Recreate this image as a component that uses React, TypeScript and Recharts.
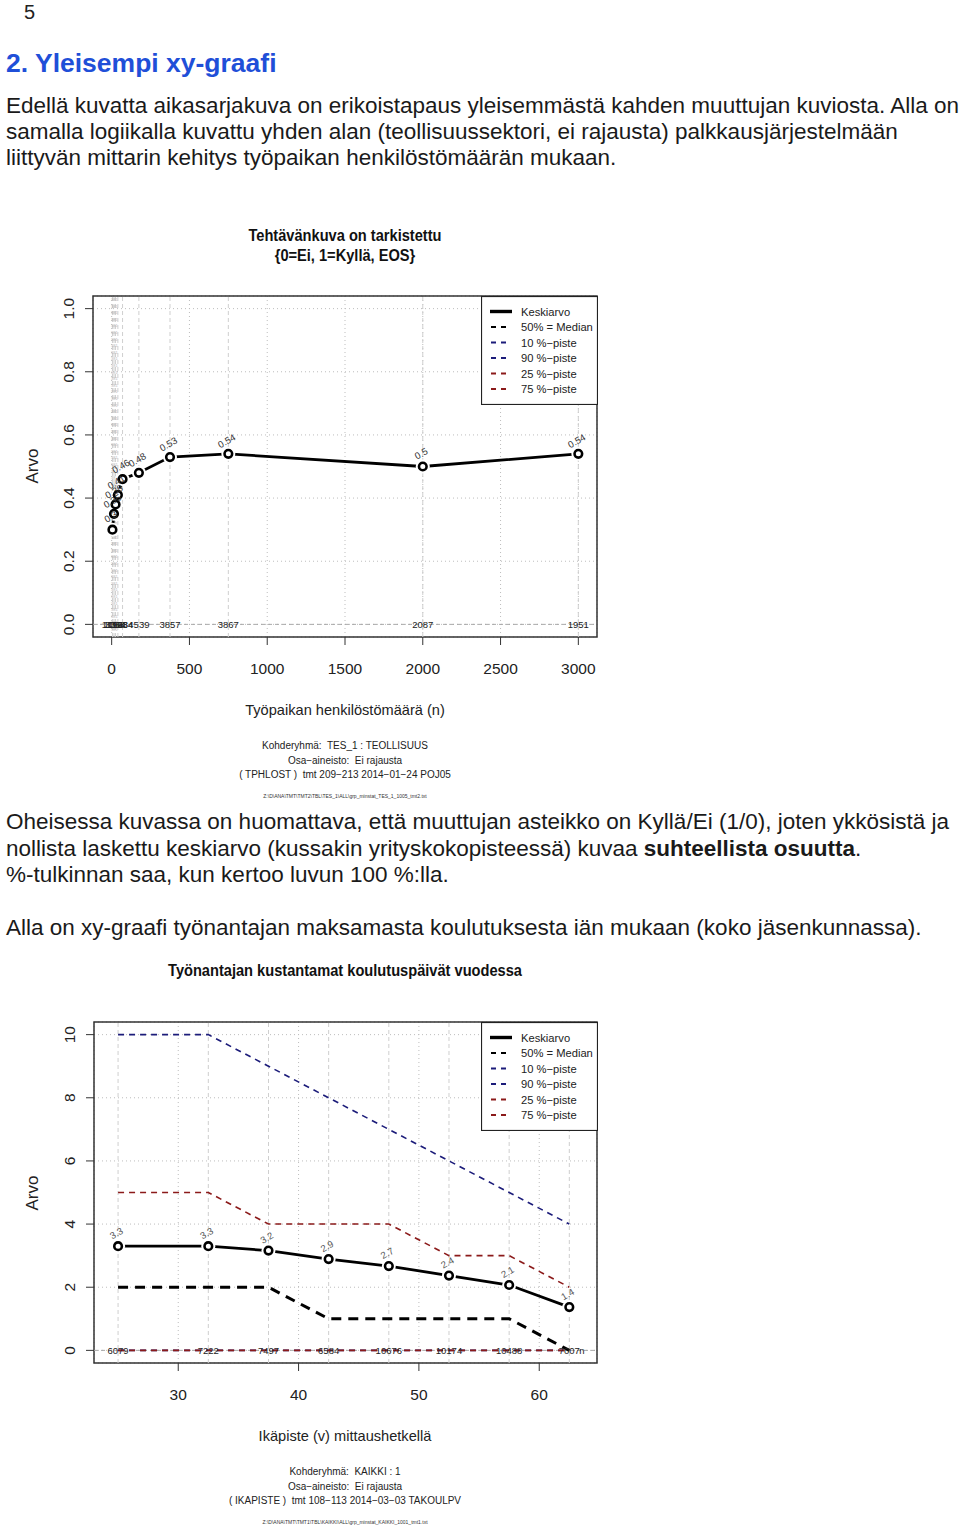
import React from "react";
import { LineChart, Line, XAxis, YAxis, CartesianGrid, ReferenceLine, ReferenceArea, LabelList } from "recharts";

const FONT = '"Liberation Sans", Arial, Helvetica, sans-serif';

// kuva 1: tehtävänkuva tarkistettu, henkilöstömäärän mukaan
const sizeX = [5, 15, 25, 40, 70, 175, 375, 750, 2000, 3000];
const taskMean = [0.3, 0.35, 0.38, 0.41, 0.46, 0.48, 0.53, 0.54, 0.5, 0.54];
const taskN = ["1096", "1058", "3364", "1138", "1934", "4539", "3857", "3867", "2087", "1951"];
const sizeTicks = [0, 500, 1000, 1500, 2000, 2500, 3000];
const taskTicks = [0, 0.2, 0.4, 0.6, 0.8, 1];

// kuva 2: koulutuspäivät iän mukaan
const ageX = [25, 32.5, 37.5, 42.5, 47.5, 52.5, 57.5, 62.5];
const daysMean = [3.3, 3.3, 3.16, 2.89, 2.67, 2.37, 2.07, 1.37];
const daysMedian = [2, 2, 2, 1, 1, 1, 1, 0];
const daysP10 = [0, 0, 0, 0, 0, 0, 0, 0];
const daysP90 = [10, 10, 9, 8, 7, 6, 5, 4];
const daysP25 = [0, 0, 0, 0, 0, 0, 0, 0];
const daysP75 = [5, 5, 4, 4, 4, 3, 3, 2];
const daysN = ["6079", "7222", "7497", "6584", "10676", "10174", "10488", "7007"];
const ageTicks = [30, 40, 50, 60];
const daysTicks = [0, 2, 4, 6, 8, 10];

const legendNames = ["Keskiarvo", "50% = Median", "10 %−piste", "90 %−piste", "25 %−piste", "75 %−piste"];

const NAVY = "#1c1c7a";
const DRED = "#8b1a1a";

const taskRows = sizeX.map((x, i) => ({ x, mean: taskMean[i], n: taskN[i], base: 0 }));
const daysRows = ageX.map((x, i) => ({
  x,
  mean: daysMean[i],
  median: daysMedian[i],
  p10: daysP10[i],
  p90: daysP90[i],
  p25: daysP25[i],
  p75: daysP75[i],
  n: daysN[i],
  base: 0,
}));

const XTick = (fmt: (v: number) => string) => (p: any) => (
  <text x={p.x} y={p.y + 28.5} textAnchor="middle" fontSize={15.5} fill="#222" fontFamily={FONT}>
    {fmt(p.payload.value)}
  </text>
);

const YTick = (fmt: (v: number) => string) => (p: any) => (
  <text
    x={0}
    y={0}
    transform={`translate(${p.x - 11.5},${p.y}) rotate(-90)`}
    textAnchor="middle"
    fontSize={15.5}
    fill="#222"
    fontFamily={FONT}
  >
    {fmt(p.payload.value)}
  </text>
);

const Halo = (p: any) => (p.cx == null ? null : <circle key={`h${p.index}`} cx={p.cx} cy={p.cy} r={7} fill="#fff" />);
const Ring = (p: any) =>
  p.cx == null ? null : (
    <circle key={`r${p.index}`} cx={p.cx} cy={p.cy} r={3.8} fill="#fff" stroke="#000" strokeWidth={2.6} />
  );

const valueLabel = (fmt: (v: number) => string, color: string) => (p: any) => (
  <text
    key={`v${p.index}`}
    x={0}
    y={0}
    transform={`translate(${p.x},${p.y - 10}) rotate(-30)`}
    textAnchor="middle"
    fontSize={9.5}
    fill={color}
    fontFamily={FONT}
  >
    {fmt(p.value)}
  </text>
);

const nLabel = (last: string) => (p: any) => (
  <g key={`n${p.index}`}>
    <text x={p.x} y={p.y + 3.4} textAnchor="middle" fontSize={9.5} fill="#222" fontFamily={FONT}>
      {p.value}
    </text>
    {last && p.index === daysN.length - 1 ? (
      <text x={p.x + 10} y={p.y + 3.4} fontSize={9.5} fill="#222" fontFamily={FONT}>
        {last}
      </text>
    ) : null}
  </g>
);

// pystysarake pieniä harmaita merkintöjä pienimmän kokoluokan kohdalla
const tinyColumn = (p: any) => {
  const vb = p.viewBox;
  if (!vb) return null;
  const items = [];
  for (let y = vb.y + 5; y < vb.y + vb.height; y += 6.6) {
    items.push(
      <text key={y} x={vb.x + 2} y={y} textAnchor="middle" fontSize={4} fill="#b8b8b8" fontFamily={FONT}>
        381
      </text>
    );
  }
  return <g>{items}</g>;
};

function LegendBox({ left, top }: { left: number; top: number }) {
  const styles = [
    { c: "#000", w: 3.4, dash: undefined as string | undefined, x1: 9, x2: 31 },
    { c: "#000", w: 1.8, dash: "5 5", x1: 10, x2: 27 },
    { c: NAVY, w: 1.8, dash: "5 5", x1: 10, x2: 27 },
    { c: NAVY, w: 1.8, dash: "5 5", x1: 10, x2: 27 },
    { c: DRED, w: 1.8, dash: "5 5", x1: 10, x2: 27 },
    { c: DRED, w: 1.8, dash: "5 5", x1: 10, x2: 27 },
  ];
  return (
    <svg style={{ position: "absolute", left, top }} width={117} height={109}>
      <rect x={0.5} y={0.5} width={116} height={108} fill="#fff" stroke="#222" strokeWidth={1.2} />
      {legendNames.map((name, i) => {
        const cy = 15.5 + i * 15.5;
        const s = styles[i];
        return (
          <g key={name}>
            <line x1={s.x1} x2={s.x2} y1={cy} y2={cy} stroke={s.c} strokeWidth={s.w} strokeDasharray={s.dash} />
            <text x={40} y={cy + 4} fontSize={11.2} fill="#222" fontFamily={FONT}>
              {name}
            </text>
          </g>
        );
      })}
    </svg>
  );
}

function TaskChart() {
  const xd: [number, number] = [-120, 3120];
  const yd: [number, number] = [-0.04, 1.04];
  return (
    <div style={{ position: "absolute", left: 0, top: 0 }}>
      <LineChart width={960} height={800} data={taskRows} margin={{ top: 296, right: 363, bottom: 123, left: 43 }}>
        <CartesianGrid stroke="#bdbdbd" strokeDasharray="1 3" />
        <XAxis
          dataKey="x"
          type="number"
          domain={xd}
          ticks={sizeTicks}
          interval={0}
          height={40}
          axisLine={false}
          tickLine={{ stroke: "#333" }}
          tickSize={8}
          tickMargin={0}
          tick={XTick((v) => String(v))}
          allowDataOverflow
        />
        <YAxis
          type="number"
          domain={yd}
          ticks={taskTicks}
          interval={0}
          width={50}
          axisLine={false}
          tickLine={{ stroke: "#333" }}
          tickSize={8}
          tickMargin={0}
          tick={YTick((v) => v.toFixed(1))}
          allowDataOverflow
        />
        {sizeX.map((x) => (
          <ReferenceLine key={x} x={x} stroke="#cfcfcf" strokeDasharray="4 3" />
        ))}
        <ReferenceLine x={sizeX[0]} stroke="none" label={tinyColumn} />
        <ReferenceLine y={0} stroke="#a8a8a8" strokeDasharray="4 3" />
        <ReferenceArea x1={xd[0]} x2={xd[1]} y1={yd[0]} y2={yd[1]} fill="none" stroke="#333" strokeWidth={1.5} />
        <Line dataKey="base" stroke="none" dot={false} isAnimationActive={false}>
          <LabelList dataKey="n" content={nLabel("")} />
        </Line>
        <Line dataKey="mean" stroke="#000" strokeWidth={2.8} dot={Halo} isAnimationActive={false} />
        <Line dataKey="mean" stroke="none" dot={Ring} isAnimationActive={false}>
          <LabelList dataKey="mean" content={valueLabel((v) => String(v), "#333")} />
        </Line>
      </LineChart>
    </div>
  );
}

function DaysChart() {
  const xd: [number, number] = [23, 64.8];
  const yd: [number, number] = [-0.4, 10.4];
  return (
    <div style={{ position: "absolute", left: 0, top: 900 }}>
      <LineChart width={960} height={600} data={daysRows} margin={{ top: 122, right: 363, bottom: 97, left: 44 }}>
        <CartesianGrid stroke="#bdbdbd" strokeDasharray="1 3" />
        <XAxis
          dataKey="x"
          type="number"
          domain={xd}
          ticks={ageTicks}
          interval={0}
          height={40}
          axisLine={false}
          tickLine={{ stroke: "#333" }}
          tickSize={8}
          tickMargin={0}
          tick={XTick((v) => String(v))}
          allowDataOverflow
        />
        <YAxis
          type="number"
          domain={yd}
          ticks={daysTicks}
          interval={0}
          width={50}
          axisLine={false}
          tickLine={{ stroke: "#333" }}
          tickSize={8}
          tickMargin={0}
          tick={YTick((v) => String(v))}
          allowDataOverflow
        />
        {ageX.map((x) => (
          <ReferenceLine key={x} x={x} stroke="#cfcfcf" strokeDasharray="4 3" />
        ))}
        <ReferenceLine y={0} stroke="#a8a8a8" strokeDasharray="4 3" />
        <ReferenceArea x1={xd[0]} x2={xd[1]} y1={yd[0]} y2={yd[1]} fill="none" stroke="#333" strokeWidth={1.5} />
        <Line dataKey="p10" stroke={NAVY} strokeWidth={1.6} strokeDasharray="6 5" dot={false} isAnimationActive={false} />
        <Line dataKey="p90" stroke={NAVY} strokeWidth={1.6} strokeDasharray="6 5" dot={false} isAnimationActive={false} />
        <Line dataKey="p25" stroke={DRED} strokeWidth={1.6} strokeDasharray="6 5" dot={false} isAnimationActive={false} />
        <Line dataKey="p75" stroke={DRED} strokeWidth={1.6} strokeDasharray="6 5" dot={false} isAnimationActive={false} />
        <Line dataKey="median" stroke="#000" strokeWidth={3} strokeDasharray="10 7" dot={false} isAnimationActive={false} />
        <Line dataKey="base" stroke="none" dot={false} isAnimationActive={false}>
          <LabelList dataKey="n" content={nLabel("n")} />
        </Line>
        <Line dataKey="mean" stroke="#000" strokeWidth={2.8} dot={Halo} isAnimationActive={false} />
        <Line dataKey="mean" stroke="none" dot={Ring} isAnimationActive={false}>
          <LabelList dataKey="mean" content={valueLabel((v) => v.toFixed(1), "#555")} />
        </Line>
      </LineChart>
    </div>
  );
}

function PageText() {
  const body = { fontSize: 22.5, fill: "#1a1a1a", fontFamily: FONT };
  const cap = { fontSize: 10, fill: "#222", fontFamily: FONT, textAnchor: "middle" as const, style: { whiteSpace: "pre" as const } };
  const axisTitle = { fontSize: 14.6, fill: "#222", fontFamily: FONT, textAnchor: "middle" as const };
  const title = { fontSize: 16.5, fill: "#111", fontFamily: FONT, fontWeight: 700, textAnchor: "middle" as const };
  const path = { fontSize: 5, fill: "#333", fontFamily: FONT, textAnchor: "middle" as const };
  const narrow = (cx: number) => `translate(${cx},0) scale(0.887,1) translate(${-cx},0)`;
  return (
    <svg style={{ position: "absolute", left: 0, top: 0 }} width={960} height={1526}>
      <text x={24} y={19} fontSize={20} fill="#222" fontFamily={FONT}>5</text>
      <text x={6} y={72} fontSize={26.5} fontWeight={700} fill="#1f4fd8" fontFamily={FONT}>2. Yleisempi xy-graafi</text>
      <text x={6} y={113} {...body}>Edellä kuvatta aikasarjakuva on erikoistapaus yleisemmästä kahden muuttujan kuviosta. Alla on</text>
      <text x={6} y={139} {...body}>samalla logiikalla kuvattu yhden alan (teollisuussektori, ei rajausta) palkkausjärjestelmään</text>
      <text x={6} y={165} {...body}>liittyvän mittarin kehitys työpaikan henkilöstömäärän mukaan.</text>

      <g transform={narrow(345)}>
        <text x={345} y={241} {...title}>Tehtävänkuva on tarkistettu</text>
        <text x={345} y={261} {...title}>{"{0=Ei, 1=Kyllä, EOS}"}</text>
      </g>
      <text x={0} y={0} transform="translate(38,466) rotate(-90)" {...axisTitle} fontSize={17}>Arvo</text>
      <text x={345} y={715} {...axisTitle}>Työpaikan henkilöstömäärä (n)</text>
      <text x={345} y={749} {...cap}>Kohderyhmä:  TES_1 : TEOLLISUUS</text>
      <text x={345} y={764} {...cap}>Osa−aineisto:  Ei rajausta</text>
      <text x={345} y={778} {...cap}>( TPHLOST )  tmt 209−213 2014−01−24 POJ05</text>
      <text x={345} y={798} {...path}>Z:\D\ANA\TMT\TMT2\TBL\TES_1\ALL\grp_minstat_TES_1_1005_tmt2.txt</text>

      <text x={6} y={829} {...body}>Oheisessa kuvassa on huomattava, että muuttujan asteikko on Kyllä/Ei (1/0), joten ykkösistä ja</text>
      <text x={6} y={856} {...body}>
        nollista laskettu keskiarvo (kussakin yrityskokopisteessä) kuvaa <tspan fontWeight={700}>suhteellista osuutta</tspan>.
      </text>
      <text x={6} y={882} {...body}>%-tulkinnan saa, kun kertoo luvun 100 %:lla.</text>
      <text x={6} y={935} {...body}>Alla on xy-graafi työnantajan maksamasta koulutuksesta iän mukaan (koko jäsenkunnassa).</text>

      <g transform={narrow(345)}>
        <text x={345} y={976} {...title}>Työnantajan kustantamat koulutuspäivät vuodessa</text>
      </g>
      <text x={0} y={0} transform="translate(38,1193) rotate(-90)" {...axisTitle} fontSize={17}>Arvo</text>
      <text x={345} y={1441} {...axisTitle}>Ikäpiste (v) mittaushetkellä</text>
      <text x={345} y={1475} {...cap}>Kohderyhmä:  KAIKKI : 1</text>
      <text x={345} y={1490} {...cap}>Osa−aineisto:  Ei rajausta</text>
      <text x={345} y={1504} {...cap}>( IKAPISTE )  tmt 108−113 2014−03−03 TAKOULPV</text>
      <text x={345} y={1524} {...path}>Z:\D\ANA\TMT\TMT1\TBL\KAIKKI\ALL\grp_minstat_KAIKKI_1001_tmt1.txt</text>
    </svg>
  );
}

export default function App() {
  return (
    <div style={{ position: "absolute", left: 0, top: 0, width: 960, height: 1526, background: "#fff", overflow: "hidden" }}>
      <PageText />
      <TaskChart />
      <DaysChart />
      <LegendBox left={481} top={296} />
      <LegendBox left={481} top={1022} />
    </div>
  );
}
